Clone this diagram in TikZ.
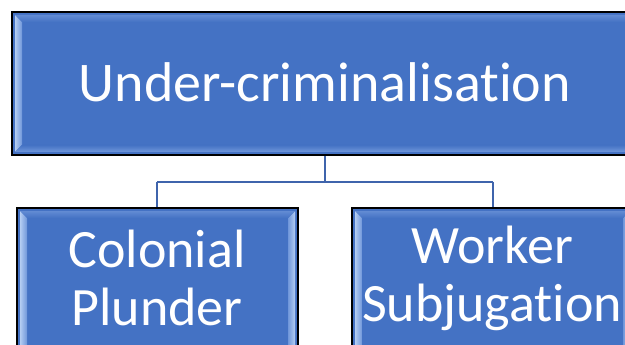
\documentclass[tikz,border=0pt]{standalone}
\usepackage{fontspec}
\setmainfont{Carlito}[Ligatures=NoCommon]
\usetikzlibrary{shadings}
\definecolor{boxblue}{HTML}{4472C4}
\definecolor{linkblue}{HTML}{3F64AC}
\definecolor{bevlight}{HTML}{B4CDF2}
\definecolor{bevmid}{HTML}{6F96DA}
\tikzset{
  x=1pt, y=-1pt,
  boxbody/.style={fill=boxblue, draw=black, line width=1.6pt},
  boxtext/.style={text=white, align=center, inner sep=0pt},
  link/.style={draw=linkblue, line width=2.4pt},
}
\newcommand{\bevelbox}[5]{% x0 y0 x1 y1 name
  \path[boxbody] (#1,#2) rectangle (#3,#4);
  \coordinate (#5-nw) at (#1,#2);
  \coordinate (#5-se) at (#3,#4);
  \shade[left color=bevlight, right color=bevmid]
    (#1+3,#2+3) -- (#1+10,#2+10) -- (#1+10,#4-10) -- (#1+3,#4-3) -- cycle;
  \shade[left color=bevmid, right color=bevlight]
    (#3-3,#2+3) -- (#3-10,#2+10) -- (#3-10,#4-10) -- (#3-3,#4-3) -- cycle;
  \shade[top color=boxblue, bottom color=bevmid]
    (#1+3,#4-3) -- (#1+10,#4-10) -- (#3-10,#4-10) -- (#3-3,#4-3) -- cycle;
  \shade[top color=bevmid!70!boxblue, bottom color=boxblue]
    (#1+3,#2+3) -- (#1+10,#2+10) -- (#3-10,#2+10) -- (#3-3,#2+3) -- cycle;
}
\begin{document}
\begin{tikzpicture}
\useasboundingbox (0,0) rectangle (625,345);
\clip (0,0) rectangle (625,345);
\fill[white] (0,0) rectangle (625,345);
% connectors
\coordinate (topc) at (325,155);
\coordinate (mid) at (325,182);
\coordinate (ml) at (157,182);
\coordinate (mr) at (493,182);
\coordinate (lc) at (157,208);
\coordinate (rc) at (493,208);
\draw[link] (topc) -- (mid);
\draw[link] (ml) -- (mr);
\draw[link] (ml) -- (lc);
\draw[link] (mr) -- (rc);
% boxes
\bevelbox{12}{12}{638}{155}{top}
\bevelbox{17}{208}{298}{360}{left}
\bevelbox{352}{208}{633}{360}{right}
\node[boxtext, font=\fontsize{56}{60}\selectfont] (ttext) at (325,82) {Under-criminalisation};
\node[boxtext, font=\fontsize{54}{58}\selectfont] (ltext) at (157,278) {Colonial\\Plunder};
\node[boxtext, font=\fontsize{54}{58}\selectfont] (rtext) at (492,278) {Worker\\Subjugation};
\end{tikzpicture}
\end{document}
